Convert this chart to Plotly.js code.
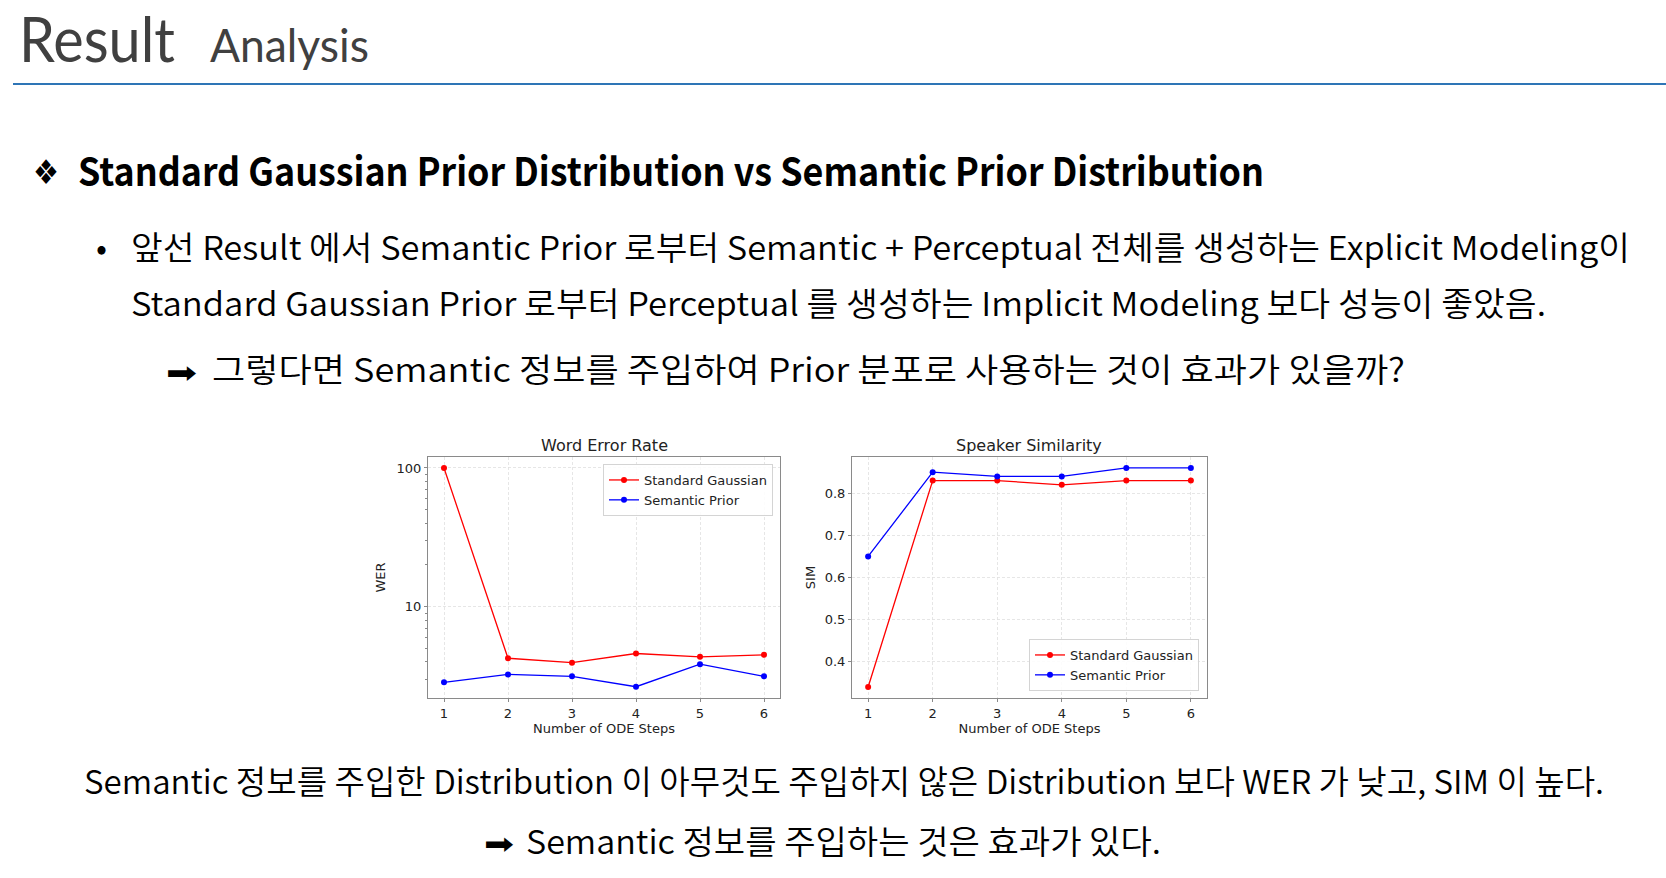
<!DOCTYPE html>
<html><head><meta charset="utf-8">
<script src="https://cdn.plot.ly/plotly-3.0.1.min.js"></script>
<style>
html,body{margin:0;padding:0;background:#fff;overflow:hidden}
#wrap{position:relative;width:1666px;height:878px}
#chart{position:absolute;left:0;top:0;width:1666px;height:878px}
#slide{position:absolute;left:0;top:0;pointer-events:none}
</style></head><body>
<div id="wrap"><div id="chart"></div>
<svg id="slide" width="1666" height="878" xmlns="http://www.w3.org/2000/svg"></svg></div>
<script>
// ---- data ----
const steps = [1, 2, 3, 4, 5, 6];
const stepLabels = ['1', '2', '3', '4', '5', '6'];
const werGaussian = [100, 4.25, 3.95, 4.6, 4.35, 4.5];
const werSemantic = [2.85, 3.25, 3.15, 2.65, 3.85, 3.15];
const simGaussian = [0.34, 0.83, 0.83, 0.82, 0.83, 0.83];
const simSemantic = [0.65, 0.85, 0.84, 0.84, 0.86, 0.86];
const seriesNames = ['Standard Gaussian', 'Semantic Prior'];
const werTickVals = [10, 100];
const werTickText = ['10', '100'];
const werMinorVals = [3, 4, 5, 6, 7, 8, 9, 20, 30, 40, 50, 60, 70, 80, 90];
const simTickVals = [0.4, 0.5, 0.6, 0.7, 0.8];
const simTickText = ['0.4', '0.5', '0.6', '0.7', '0.8'];
const chartTitles = ['Word Error Rate', 'Speaker Similarity'];
const xTitle = 'Number of ODE Steps';
const yTitles = ['WER', 'SIM'];

// ---- slide texts ----
const headerMain = 'Result';
const headerSub = 'Analysis';
const headingText = 'Standard Gaussian Prior Distribution vs Semantic Prior Distribution';
const bodyLine1 = '앞선 Result 에서 Semantic Prior 로부터 Semantic + Perceptual 전체를 생성하는 Explicit Modeling이';
const bodyLine2 = 'Standard Gaussian Prior 로부터 Perceptual 를 생성하는 Implicit Modeling 보다 성능이 좋았음.';
const bodyLine3 = '그렇다면 Semantic 정보를 주입하여 Prior 분포로 사용하는 것이 효과가 있을까?';
const footLine1 = 'Semantic 정보를 주입한 Distribution 이 아무것도 주입하지 않은 Distribution 보다 WER 가 낮고, SIM 이 높다.';
const footLine2 = 'Semantic 정보를 주입하는 것은 효과가 있다.';

const W = 1666, H = 878;
const RED = '#ff0000', BLUE = '#0000ff';
const px = v => v / W;
const py = v => 1 - v / H;

function tr(y, name, color, xa, ya, leg) {
  return {x: steps, y: y, name: name, mode: 'lines+markers', xaxis: xa, yaxis: ya, legend: leg,
    line: {color: color, width: 1.3}, marker: {color: color, size: 6}};
}
const traces = [
  tr(werGaussian, seriesNames[0], RED, 'x', 'y', 'legend'),
  tr(werSemantic, seriesNames[1], BLUE, 'x', 'y', 'legend'),
  tr(simGaussian, seriesNames[0], RED, 'x2', 'y2', 'legend2'),
  tr(simSemantic, seriesNames[1], BLUE, 'x2', 'y2', 'legend2')
];

const axBase = {showline: true, mirror: true, linecolor: '#8a8a8a', linewidth: 1,
  ticks: 'outside', ticklen: 3, tickcolor: '#8a8a8a', tickwidth: 1,
  showgrid: true, gridcolor: '#e0e0e0', griddash: '3px,2px', gridwidth: 0.8, zeroline: false,
  tickfont: {size: 13, color: '#222'}};
const yDom = [py(698), py(457)];
const legBase = {bgcolor: 'rgba(255,255,255,0.85)', bordercolor: '#d4d4d4', borderwidth: 1,
  font: {size: 13, color: '#222', family: 'DejaVu Sans'}, tracegroupgap: 0, itemwidth: 30};

const layout = {
  width: W, height: H, margin: {l: 0, r: 0, t: 0, b: 0},
  paper_bgcolor: '#fff', plot_bgcolor: '#fff', showlegend: true,
  font: {family: 'DejaVu Sans', color: '#222'},
  xaxis: Object.assign({}, axBase, {domain: [px(428), px(780)], range: [0.75, 6.25], anchor: 'y',
    tickmode: 'array', tickvals: steps, ticktext: stepLabels,
    title: {text: xTitle, font: {size: 13, color: '#222'}, standoff: 2}}),
  yaxis: Object.assign({}, axBase, {domain: yDom, type: 'log', range: [0.342, 2.079], anchor: 'x',
    tickmode: 'array', tickvals: werTickVals, ticktext: werTickText,
    minor: {tickmode: 'array', tickvals: werMinorVals, ticks: 'outside', ticklen: 2, tickcolor: '#8a8a8a', showgrid: false},
    title: {text: yTitles[0], font: {size: 13, color: '#222'}, standoff: 8}}),
  xaxis2: Object.assign({}, axBase, {domain: [px(852), px(1207)], range: [0.75, 6.25], anchor: 'y2',
    tickmode: 'array', tickvals: steps, ticktext: stepLabels,
    title: {text: xTitle, font: {size: 13, color: '#222'}, standoff: 2}}),
  yaxis2: Object.assign({}, axBase, {domain: yDom, range: [0.314, 0.886], anchor: 'x2',
    tickmode: 'array', tickvals: simTickVals, ticktext: simTickText,
    title: {text: yTitles[1], font: {size: 13, color: '#222'}, standoff: 6}}),
  legend: Object.assign({}, legBase, {x: px(773), xanchor: 'right', y: py(464), yanchor: 'top'}),
  legend2: Object.assign({}, legBase, {x: px(1199), xanchor: 'right', y: py(691), yanchor: 'bottom'}),
  annotations: [
    {text: chartTitles[0], xref: 'paper', yref: 'paper', x: px(604), y: py(457), xanchor: 'center', yanchor: 'bottom',
     showarrow: false, font: {size: 16, color: '#222', family: 'DejaVu Sans'}},
    {text: chartTitles[1], xref: 'paper', yref: 'paper', x: px(1029), y: py(457), xanchor: 'center', yanchor: 'bottom',
     showarrow: false, font: {size: 16, color: '#222', family: 'DejaVu Sans'}}
  ]
};

Plotly.newPlot('chart', traces, layout, {displayModeBar: false, staticPlot: true});

// ---- slide overlay ----
const svg = document.getElementById('slide');
const NS = 'http://www.w3.org/2000/svg';
const KR = '"Noto Sans CJK KR", "Noto Sans", sans-serif';
const SYM = '"DejaVu Sans", sans-serif';
const LAT = 'Lato, "Noto Sans", sans-serif';
function addText(s, x, y, w, size, opts) {
  opts = opts || {};
  const el = document.createElementNS(NS, 'text');
  el.setAttribute('x', x); el.setAttribute('y', y);
  if (w) { el.setAttribute('textLength', w); el.setAttribute('lengthAdjust', 'spacingAndGlyphs'); }
  el.setAttribute('font-family', opts.family || KR);
  el.setAttribute('font-size', size);
  el.setAttribute('font-weight', opts.weight || 350);
  el.setAttribute('fill', opts.color || '#000');
  el.textContent = s;
  svg.appendChild(el);
}
// header
addText(headerMain, 19, 62, 156, 62, {family: LAT, color: '#404040', weight: 400});
addText(headerSub, 210, 62, 159, 47, {family: LAT, color: '#404040', weight: 400});
const bar = document.createElementNS(NS, 'rect');
bar.setAttribute('x', 13); bar.setAttribute('y', 83); bar.setAttribute('width', W - 13); bar.setAttribute('height', 2);
bar.setAttribute('fill', '#2e75b6');
svg.appendChild(bar);
// heading
addText('❖', 33, 184, 26, 34, {family: SYM, weight: 400});
addText(headingText, 78, 186, 1186, 39, {weight: 700});
// bullet text
addText('•', 96, 260, 0, 33);
addText(bodyLine1, 131, 260, 1499, 33);
addText(bodyLine2, 131, 316, 1415, 33);
addText('➡', 166, 383, 31, 30, {family: SYM, weight: 400});
addText(bodyLine3, 212, 382, 1193, 33);
// footer
addText(footLine1, 84, 794, 1520, 33);
addText('➡', 484, 854, 30, 29, {family: SYM, weight: 400});
addText(footLine2, 526, 854, 635, 33);
</script>
</body></html>
